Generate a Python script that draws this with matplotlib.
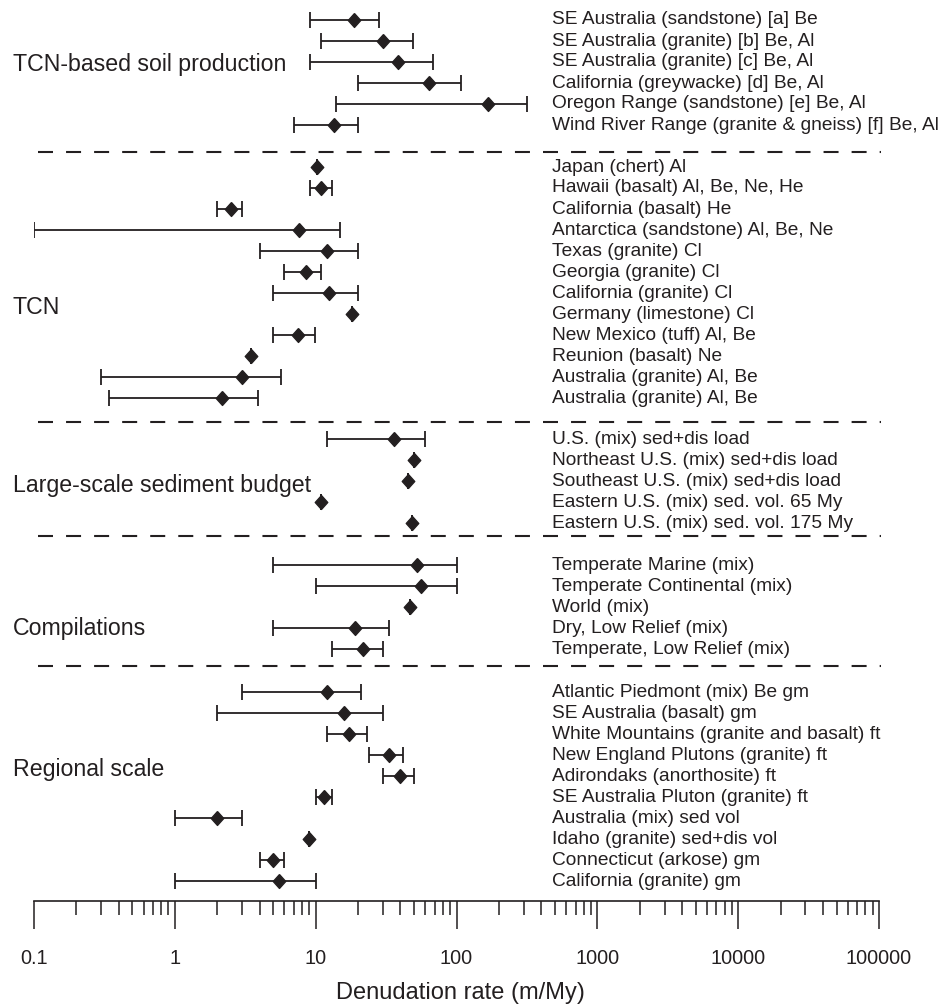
import matplotlib.pyplot as plt
from matplotlib.ticker import LogLocator, NullFormatter

plt.rcParams["font.family"] = ["Liberation Sans", "DejaVu Sans"]
plt.rcParams["lines.scale_dashes"] = False

INK = "#231f20"

# ---- data: (label, best, low, high) per group, in m/My ----
soil_labels = [
    "SE Australia (sandstone) [a] Be",
    "SE Australia (granite) [b] Be, Al",
    "SE Australia (granite) [c] Be, Al",
    "California (greywacke) [d] Be, Al",
    "Oregon Range (sandstone) [e] Be, Al",
    "Wind River Range (granite & gneiss) [f] Be, Al",
]
soil_rate = [18.7, 30, 38.6, 64, 168, 13.5]
soil_low = [9.1, 11, 9.1, 20, 14, 7]
soil_high = [28, 49, 68, 107, 318, 20]

tcn_labels = [
    "Japan (chert) Al",
    "Hawaii (basalt) Al, Be, Ne, He",
    "California (basalt) He",
    "Antarctica (sandstone) Al, Be, Ne",
    "Texas (granite) Cl",
    "Georgia (granite) Cl",
    "California (granite) Cl",
    "Germany (limestone) Cl",
    "New Mexico (tuff) Al, Be",
    "Reunion (basalt) Ne",
    "Australia (granite) Al, Be",
    "Australia (granite) Al, Be",
]
tcn_rate = [10.2, 10.9, 2.5, 7.6, 12.1, 8.5, 12.5, 18, 7.5, 3.5, 3.0, 2.15]
tcn_low = [10.2, 9.1, 2.0, 0.1, 4.0, 6.0, 5.0, 18, 5.0, 3.5, 0.3, 0.34]
tcn_high = [10.2, 13, 3.0, 15, 20, 11, 20, 18, 9.9, 3.5, 5.7, 3.9]

budget_labels = [
    "U.S. (mix) sed+dis load",
    "Northeast U.S. (mix) sed+dis load",
    "Southeast U.S. (mix) sed+dis load",
    "Eastern U.S. (mix) sed. vol. 65 My",
    "Eastern U.S. (mix) sed. vol. 175 My",
]
budget_rate = [36, 50, 45, 11, 48]
budget_low = [12, 50, 45, 11, 48]
budget_high = [60, 50, 45, 11, 48]

comp_labels = [
    "Temperate Marine (mix)",
    "Temperate Continental (mix)",
    "World (mix)",
    "Dry, Low Relief (mix)",
    "Temperate, Low Relief (mix)",
]
comp_rate = [52, 56, 47, 19, 21.6]
comp_low = [5, 10, 47, 5, 13]
comp_high = [100, 100, 47, 33, 30]

regional_labels = [
    "Atlantic Piedmont (mix) Be gm",
    "SE Australia (basalt) gm",
    "White Mountains (granite and basalt) ft",
    "New England Plutons (granite) ft",
    "Adirondaks (anorthosite) ft",
    "SE Australia Pluton (granite) ft",
    "Australia (mix) sed vol",
    "Idaho (granite) sed+dis vol",
    "Connecticut (arkose) gm",
    "California (granite) gm",
]
regional_rate = [12.1, 16, 17.3, 33, 40, 11.5, 2.0, 9.0, 5.0, 5.5]
regional_low = [3, 2, 12, 24, 30, 10, 1, 9.0, 4, 1]
regional_high = [21, 30, 23, 42, 50, 13, 3, 9.0, 6, 10]

group_names = ["TCN-based soil production", "TCN", "Large-scale sediment budget",
               "Compilations", "Regional scale"]
groups = [
    (soil_labels, soil_rate, soil_low, soil_high),
    (tcn_labels, tcn_rate, tcn_low, tcn_high),
    (budget_labels, budget_rate, budget_low, budget_high),
    (comp_labels, comp_rate, comp_low, comp_high),
    (regional_labels, regional_rate, regional_low, regional_high),
]
tick_values = [0.1, 1, 10, 100, 1000, 10000, 100000]
tick_labels = ["0.1", "1", "10", "100", "1000", "10000", "100000"]

# ---- layout (pixel rows from the top of the figure) ----
ROW = 21
first_row = [20, 167, 439, 565, 692]
group_label_y = [65, 307, 485, 628, 769]
divider_y = [152, 422, 536, 666]

fig = plt.figure(figsize=(9.46, 10.05), dpi=100)
ax = fig.add_axes([34 / 946, 1 - 901 / 1005, 845 / 946, 901 / 1005])
ax.set_xscale("log")
ax.set_xlim(0.1, 100000)
ax.set_ylim(901, 0)

diamond = [(0, 1), (0.9, 0), (0, -1), (-0.9, 0), (0, 1)]
ty = ax.get_yaxis_transform()

for (labels, rate, low, high), y0, name, gy in zip(groups, first_row, group_names, group_label_y):
    ys = [y0 + i * ROW for i in range(len(labels))]
    err = [[r - lo for r, lo in zip(rate, low)], [hi - r for r, hi in zip(rate, high)]]
    ax.errorbar(rate, ys, xerr=err, fmt="none", ecolor=INK, elinewidth=1.3,
                capsize=6, capthick=1.3, zorder=2)
    ax.plot(rate, ys, linestyle="none", marker=diamond, markersize=10,
            color=INK, zorder=3)
    for y, lab in zip(ys, labels):
        ax.text(0.613, y, lab, transform=ty, fontsize=13.8, color=INK,
                ha="left", va="center", clip_on=False)
    ax.text(-0.0249, gy, name, transform=ty, fontsize=16.7, color=INK,
            ha="left", va="center", clip_on=False)

for y in divider_y:
    ax.plot([0.0047, 1.0024], [y, y], transform=ty, color=INK, lw=1.5,
            dashes=(10.8, 9.4), clip_on=False, dash_capstyle="butt")

for side in ["top", "left", "right"]:
    ax.spines[side].set_visible(False)
ax.spines["bottom"].set_linewidth(1.2)
ax.spines["bottom"].set_color(INK)
ax.set_yticks([])

ax.set_xticks(tick_values, tick_labels)
ax.xaxis.set_minor_locator(LogLocator(base=10, subs=range(2, 10), numticks=20))
ax.xaxis.set_minor_formatter(NullFormatter())
ax.tick_params(axis="x", which="major", direction="out", length=20, width=1.1,
               pad=14.5, labelsize=14.3, colors=INK)
ax.tick_params(axis="x", which="minor", direction="out", length=10, width=1.1,
               colors=INK)

fig.text(460 / 946, 12 / 1005, "Denudation rate (m/My)", fontsize=17, color=INK,
         ha="center", va="center")

fig.savefig("out.png", dpi=100)
